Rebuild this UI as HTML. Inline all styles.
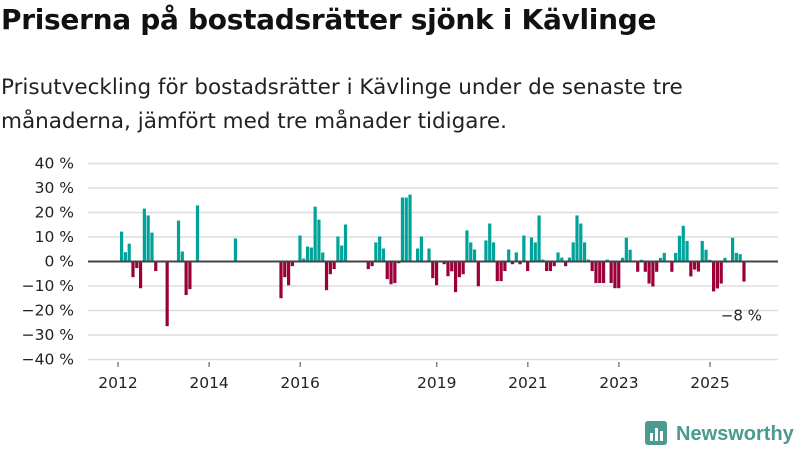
<!DOCTYPE html>
<html><head><meta charset="utf-8"><style>
body{margin:0;background:#fff;width:800px;height:450px;overflow:hidden;font-family:"DejaVu Sans","Liberation Sans",sans-serif;color:#111}
#title{position:absolute;left:1px;top:3px;font-size:28px;font-weight:bold;margin:0;letter-spacing:-0.3px;white-space:nowrap}
#sub{position:absolute;left:1px;top:71px;font-size:21.5px;line-height:34px;margin:0;width:795px;color:#222;white-space:nowrap}
svg{position:absolute;left:0;top:0}
</style></head><body>
<h1 id="title">Priserna på bostadsrätter sjönk i Kävlinge</h1>
<p id="sub">Prisutveckling för bostadsrätter i Kävlinge under de senaste tre<br>månaderna, jämfört med tre månader tidigare.</p>
<svg id="chart" width="800" height="450"></svg>
<script>
const values=[12.2,3.8,7.3,-6.4,-2.7,-10.9,21.6,18.8,11.8,-3.9,null,null,-26.4,null,null,16.7,4.1,-13.7,-11.3,null,22.9,null,null,null,null,null,null,null,null,null,9.4,null,null,null,null,null,null,null,null,null,null,null,-15,-6.4,-9.7,-1.9,null,10.6,1.2,6.1,5.7,22.4,17.1,3.7,-11.7,-5.2,-3.1,10.2,6.5,15.1,null,null,null,null,null,-3.1,-1.9,7.8,10.2,5.3,-7.2,-9.3,-8.8,-0.7,26.1,26.1,27.3,null,5.3,10.2,null,5.3,-6.8,-9.7,null,-1.1,-6,-4,-12.5,-6.4,-5.2,12.7,7.8,4.9,-10.1,null,8.6,15.5,7.8,-8,-8,-3.9,4.9,-1.1,3.7,-1.1,10.6,-3.9,9.8,7.8,18.8,0.8,-3.9,-3.9,-1.9,3.7,1.6,-1.9,1.6,7.8,18.8,15.5,7.8,0.8,-3.9,-8.8,-8.8,-8.8,0.8,-8.8,-10.9,-10.9,1.5,9.7,4.8,null,-4.2,0.7,-4.2,-9,-10.2,-4.2,1.5,3.5,null,-4.2,3.5,10.5,14.6,8.4,-6.1,-3.3,-4.1,8.4,4.8,0.7,-12.2,-11,-9,1.5,null,9.7,3.5,3,-8.2];
const yTicks=[40,30,20,10,0,-10,-20,-30,-40];
const xTickYears=[2012,2014,2016,2019,2021,2023,2025];
const startYear=2012;
const lastLabel="−8 %";
const svg=document.getElementById('chart');
const NS='http://www.w3.org/2000/svg';
const y=v=>261.5-v*2.45;
const x=i=>118+i*3.795;
const xYear=yr=>118+(yr-startYear)*45.54;
function mk(t,a,p){const e=document.createElementNS(NS,t);for(const k in a)e.setAttribute(k,a[k]);(p||svg).appendChild(e);return e;}
yTicks.forEach(t=>{
  const g=mk('line',{x1:88,x2:778,y1:y(t),y2:y(t),stroke:'#dddddd','stroke-width':1.5});
  
  
  const l=mk('text',{x:74,y:y(t)+5,'text-anchor':'end','font-size':15.5,fill:'#222'});
  l.textContent=(t<0?'−'+(-t):t)+' %';
  
  
});
values.forEach((v,i)=>{
  if(v===null)return;
  const y0=y(0),y1=y(v);
  const r=mk('rect',{x:x(i)+2,y:Math.min(y0,y1),width:3.2,height:Math.abs(y1-y0),fill:v>=0?'#00a39a':'#9b0039'});
  
  
});
const z=mk('line',{x1:88,x2:778,y1:y(0),y2:y(0),stroke:'#444','stroke-width':2});


xTickYears.forEach(yr=>{
  const t=mk('line',{x1:xYear(yr),x2:xYear(yr),y1:362,y2:367,stroke:'#444','stroke-width':1});
  
  
  const l=mk('text',{x:xYear(yr),y:388,'text-anchor':'middle','font-size':15.5,fill:'#222'});
  l.textContent=yr;
  
  
});
const li=values.length-1;
const lab=mk('text',{x:x(li)+1,y:y(values[li])+39,'text-anchor':'middle','font-size':15,fill:'#222'});
lab.textContent=lastLabel;


</script>
<svg width="160" height="40" style="left:640px;top:415px">
<rect x="5" y="6" width="22" height="24" rx="3" fill="#4a9a8f"/>
<rect x="10" y="18" width="3" height="8" fill="#fff"/><rect x="15" y="13" width="3" height="13" fill="#fff"/><rect x="20" y="16" width="3" height="10" fill="#fff"/>
<text x="36" y="25" font-size="20" font-weight="bold" fill="#4a9a8f" font-family="Liberation Sans, sans-serif">Newsworthy</text>
</svg>
</body></html>
